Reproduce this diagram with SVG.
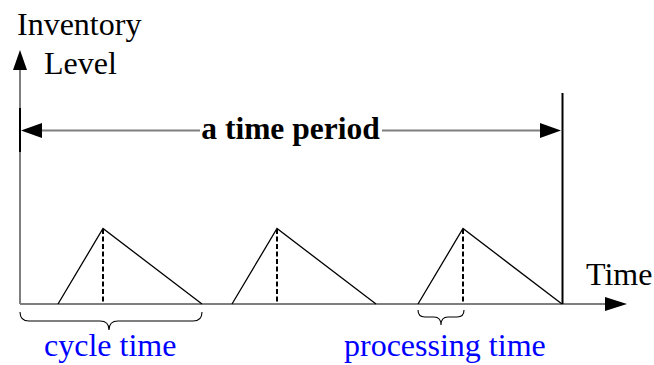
<svg xmlns="http://www.w3.org/2000/svg" width="654" height="365" viewBox="0 0 654 365">
<style>
.t{font-family:"Liberation Serif","Times New Roman",Times,serif;font-size:32px;fill:#000}
.b{font-weight:bold;font-size:31.5px}
.blue{fill:#0000ff}
.ax{stroke:#7f7f7f;stroke-width:2;fill:none}
.k{stroke:#000;stroke-width:1.3;fill:none}
.d{stroke:#000;stroke-width:2;stroke-dasharray:5 2.5;fill:none}
.br{stroke:#000;stroke-width:1.1;fill:none}
.ah{fill:#000;stroke:none}
</style>
<rect width="654" height="365" fill="#fff"/>
<g id="connectors">
<line class="ax" x1="20" y1="304" x2="20" y2="68"/>
<polygon class="ah" points="20,50 13,70 27,70"/>
<line class="ax" x1="20" y1="304" x2="607" y2="304"/>
<polygon class="ah" points="627,304 605,297 605,311"/>
<line x1="20" y1="108" x2="20" y2="152" stroke="#000" stroke-width="2"/>
<line x1="562.5" y1="93" x2="562.5" y2="304" stroke="#000" stroke-width="2"/>
<line class="ax" x1="40" y1="130.5" x2="200" y2="130.5"/>
<line class="ax" x1="382" y1="130.5" x2="542" y2="130.5"/>
<polygon class="ah" points="21,130.5 42,123 42,138"/>
<polygon class="ah" points="561,130.5 540,123 540,138"/>
</g>
<g id="cycle1">
<polyline class="k" points="58,304 103,228.5 202,304"/>
<line class="d" x1="103" y1="229" x2="103" y2="304"/>
</g>
<g id="cycle2">
<polyline class="k" points="232,304 277,228.5 376,304"/>
<line class="d" x1="277" y1="229" x2="277" y2="304"/>
</g>
<g id="cycle3">
<polyline class="k" points="418,304 463,228.5 562,304"/>
<line class="d" x1="463" y1="229" x2="463" y2="304"/>
</g>
<g id="brace-cycle">
<path class="br" d="M20,312 Q20,321 29,321 L100,321 Q109,321 109,330 Q109,321 118,321 L193,321 Q202,321 202,312"/>
</g>
<g id="brace-processing">
<path class="br" d="M418,310 Q418,317 425,317 L434,317 Q441,317 441,325 Q441,317 448,317 L457,317 Q464,317 464,310"/>
</g>
<g id="labels">
<text class="t" x="17" y="35">Inventory</text>
<text class="t" x="44" y="74">Level</text>
<text class="t b" x="290.5" y="139" text-anchor="middle">a time period</text>
<text class="t" x="586" y="285">Time</text>
<text class="t blue" x="44" y="356">cycle time</text>
<text class="t blue" x="344" y="356">processing time</text>
</g>
</svg>
